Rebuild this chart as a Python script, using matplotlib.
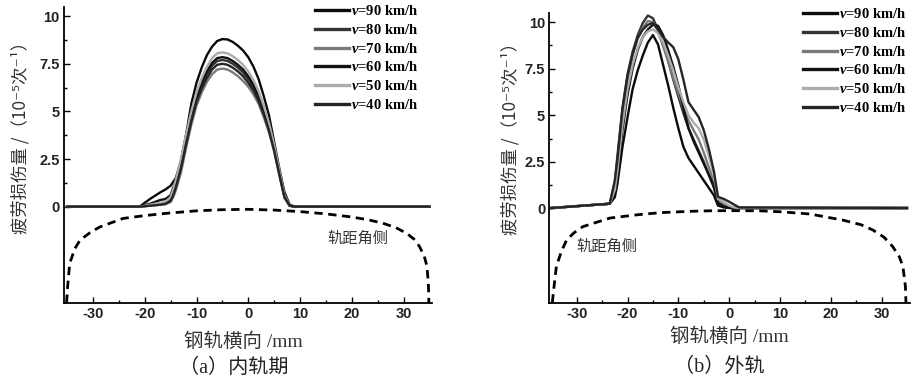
import matplotlib
matplotlib.use("Agg")
import matplotlib.pyplot as plt
from matplotlib.ticker import FixedLocator

plt.rcParams['font.family'] = ['Liberation Sans', 'Noto Sans CJK SC', 'DejaVu Sans']
plt.rcParams['mathtext.fontset'] = 'custom'
plt.rcParams['mathtext.it'] = 'Liberation Serif:italic:bold'
plt.rcParams['mathtext.rm'] = 'Liberation Serif:bold'
plt.rcParams['axes.unicode_minus'] = False

# ---------------- data ----------------
speeds = ["90", "80", "70", "60", "50", "40"]
labels = [r"$\mathit{v}$=" + s + " km/h" for s in speeds]
colors = ["#0a0a0a", "#333333", "#7a7a7a", "#111111", "#acacac", "#252525"]

# (a) inner rail
xa = [-35, -21, -19, -17, -16, -15, -14.5, -14, -13, -12, -11, -10, -9, -8, -7, -6,
      -5, -4, -3, -2, -1, 0, 1, 2, 3, 4, 5, 6, 7, 8, 9, 35]
ya_90 = [0, 0, 0.4, 0.75, 0.9, 1.1, 1.3, 1.5, 2.4, 3.8, 5.4, 6.5, 7.3, 7.95, 8.4, 8.7,
         8.8, 8.78, 8.65, 8.45, 8.2, 7.85, 7.35, 6.7, 5.8, 4.8, 3.4, 2.0, 0.75, 0.1, 0, 0]
ya_80 = [0, 0, 0.05, 0.15, 0.2, 0.4, 0.8, 1.2, 2.2, 3.5, 4.7, 5.7, 6.4, 6.95, 7.4, 7.65,
         7.7, 7.65, 7.5, 7.3, 7.05, 6.7, 6.25, 5.7, 4.95, 4.1, 3.05, 1.75, 0.5, 0.05, 0, 0]
ya_70 = [0, 0, 0.05, 0.1, 0.12, 0.25, 0.5, 0.85, 1.8, 3.1, 4.3, 5.3, 6.0, 6.55, 6.95, 7.2,
         7.25, 7.2, 7.05, 6.85, 6.6, 6.3, 5.9, 5.4, 4.7, 3.9, 2.9, 1.65, 0.45, 0.05, 0, 0]
ya_60 = [0, 0, 0.15, 0.35, 0.4, 0.6, 1.0, 1.3, 2.3, 3.6, 4.8, 5.8, 6.5, 7.1, 7.55, 7.8,
         7.85, 7.8, 7.65, 7.45, 7.2, 6.85, 6.4, 5.85, 5.1, 4.2, 3.15, 1.8, 0.55, 0.05, 0, 0]
ya_50 = [0, 0, 0.1, 0.2, 0.25, 0.5, 0.9, 1.4, 2.5, 3.8, 5.0, 6.0, 6.75, 7.35, 7.8, 8.05,
         8.1, 8.05, 7.9, 7.7, 7.45, 7.1, 6.65, 6.05, 5.3, 4.4, 3.25, 1.9, 0.6, 0.05, 0, 0]
ya_40 = [0, 0, 0.05, 0.1, 0.15, 0.3, 0.6, 1.0, 2.0, 3.3, 4.5, 5.5, 6.2, 6.75, 7.2, 7.45,
         7.5, 7.45, 7.3, 7.1, 6.85, 6.5, 6.1, 5.55, 4.85, 4.0, 2.95, 1.7, 0.5, 0.05, 0, 0]
ya_all = [ya_90, ya_80, ya_70, ya_60, ya_50, ya_40]

# (b) outer rail
xb = [-35, -23.5, -22.5, -22, -21, -20, -19, -18, -17, -16, -15, -14, -13, -12, -11,
      -10, -9, -8, -7, -6, -5, -4, -3, -2.2, -1, 0, 1, 2, 35]
yb_90 = [0.02, 0.25, 0.6, 1.3, 3.3, 4.9, 6.4, 7.4, 8.2, 8.9, 9.3, 8.8, 7.7, 6.6, 5.4,
         4.3, 3.3, 2.7, 2.3, 1.9, 1.5, 1.1, 0.7, 0.15, 0.05, 0.02, 0.02, 0.02, 0.02]
yb_80 = [0.02, 0.25, 1.4, 2.8, 5.4, 7.2, 8.4, 9.3, 9.95, 10.35, 10.2, 9.6, 8.8, 7.9, 6.9,
         6.0, 5.1, 4.3, 3.7, 3.1, 2.5, 1.8, 1.1, 0.3, 0.15, 0.05, 0.02, 0.02, 0.02]
yb_70 = [0.02, 0.25, 1.2, 2.4, 5.0, 6.9, 8.2, 9.1, 9.7, 10.05, 10.0, 9.5, 8.7, 7.9, 7.0,
         6.2, 5.4, 4.7, 4.2, 3.7, 3.0, 2.2, 1.4, 0.4, 0.2, 0.05, 0.02, 0.02, 0.02]
yb_60 = [0.02, 0.25, 0.9, 1.8, 4.2, 6.1, 7.5, 8.5, 9.2, 9.6, 9.85, 9.8, 9.3, 8.5, 7.6,
         6.6, 5.4, 4.3, 3.6, 3.0, 2.4, 1.8, 1.2, 0.3, 0.1, 0.03, 0.02, 0.02, 0.02]
yb_50 = [0.02, 0.25, 1.0, 2.0, 4.5, 6.4, 7.7, 8.6, 9.2, 9.5, 9.6, 9.4, 8.9, 8.2, 7.4,
         6.5, 5.7, 5.0, 4.6, 4.3, 3.7, 2.8, 1.8, 0.5, 0.35, 0.15, 0.05, 0.02, 0.02]
yb_40 = [0.02, 0.25, 1.5, 2.6, 5.3, 7.1, 8.3, 9.15, 9.6, 9.85, 9.95, 9.6, 9.2, 8.9, 8.65,
         8.0, 6.9, 5.7, 5.3, 4.9, 4.2, 3.2, 2.0, 0.62, 0.5, 0.36, 0.2, 0.05, 0.02]
yb_all = [yb_90, yb_80, yb_70, yb_60, yb_50, yb_40]

# rail profiles (dashed)
pa_x = [-35.1, -34.9, -34.5, -33.5, -32.5, -30.5, -28.7, -24.2, -20, -15.8, -10, -5, 0,
        5, 10, 15, 19.6, 23, 26, 28.5, 30.6, 32, 33.1, 34, 34.5, 34.8, 34.9]
pa_y = [-5.05, -4.2, -2.98, -2.2, -1.76, -1.35, -1.07, -0.62, -0.47, -0.35, -0.22, -0.16,
        -0.14, -0.18, -0.26, -0.38, -0.53, -0.68, -0.87, -1.1, -1.4, -1.7, -2.1, -2.6,
        -3.1, -4.0, -5.05]
pb_x = [-34.8, -34.6, -34.0, -33.0, -32.0, -30.5, -28.8, -23.5, -18, -13.6, -8, -3.8, 0,
        6, 10, 15.9, 22.4, 26, 28.3, 30.5, 32.2, 33.5, 34.2, 34.7, 34.8]
pb_y = [-5.05, -4.5, -3.1, -2.3, -1.7, -1.3, -0.98, -0.52, -0.34, -0.23, -0.16, -0.13,
        -0.12, -0.13, -0.18, -0.3, -0.63, -0.88, -1.16, -1.55, -2.05, -2.6, -3.1, -4.2,
        -5.05]

yticks = [0, 2.5, 5, 7.5, 10]
ytick_labels = ["0", "2.5", "5", "7.5", "10"]
yminor = [1.25, 3.75, 6.25, 8.75]
xticks = [-30, -20, -10, 0, 10, 20, 30]
xminor = [-25, -15, -5, 5, 15, 25]

ylabel = "疲劳损伤量 /（10⁻⁵次⁻¹）"
xlabel = "钢轨横向 /mm"
captions = ["（a）内轨期", "（b）外轨"]
side_text = "轨距角侧"

# ---------------- figure ----------------
fig = plt.figure(figsize=(9.11, 3.82), dpi=100)
axa = fig.add_axes([64 / 911, 1 - 303 / 382, 368 / 911, (303 - 6.7) / 382])
axb = fig.add_axes([549.3 / 911, 1 - 302.7 / 382, (910 - 549.3) / 911, (302.7 - 12.7) / 382])

serif_cjk = ['Liberation Serif', 'Noto Sans CJK SC', 'DejaVu Sans']
cjk = ['Noto Sans CJK SC', 'DejaVu Sans']

panels = [
    (axa, xa, ya_all, pa_x, pa_y, (-35.6, 35.5)),
    (axb, xb, yb_all, pb_x, pb_y, (-35.4, 35.6)),
]
for ax, xs, ys_all, px, py, xl in panels:
    for ys, c, lab in zip(ys_all, colors, labels):
        ax.plot(xs, ys, color=c, lw=1.7, label=lab, solid_joinstyle='round')
    ax.plot(px, py, color='black', lw=2.0, linestyle=(0, (3, 2)))
    ax.set_xlim(*xl)
    ax.set_ylim(-5.06, 10.5)
    for s in ['top', 'right']:
        ax.spines[s].set_visible(False)
    for s in ['left', 'bottom']:
        ax.spines[s].set_linewidth(1.3)
    ax.set_yticks(yticks)
    ax.set_yticklabels(ytick_labels)
    ax.yaxis.set_minor_locator(FixedLocator(yminor))
    ax.set_xticks(xticks)
    ax.xaxis.set_minor_locator(FixedLocator(xminor))
    ax.tick_params(which='both', direction='in', width=1.0, labelsize=10.5, pad=3)
    ax.tick_params(which='major', length=4)
    ax.tick_params(which='minor', length=2.5)
    for t in ax.get_xticklabels() + ax.get_yticklabels():
        t.set_fontweight('bold')
        t.set_color('#222222')

leg_pos = [(315 / 911, 1 - 4 / 382), (803 / 911, 1 - 7 / 382)]
for ax, pos in zip([axa, axb], leg_pos):
    leg = ax.legend(loc='upper left', bbox_to_anchor=pos, bbox_transform=fig.transFigure,
                    frameon=False, borderpad=0, borderaxespad=0, handlelength=2.3,
                    handletextpad=0.15, labelspacing=0.33,
                    prop={'family': 'Liberation Serif', 'weight': 'bold', 'size': 10.5})
    for ln in leg.get_lines():
        ln.set_linewidth(2.4)

axa.text(21.1, -1.65, side_text, ha='center', va='center', fontsize=11,
         family=cjk, color='#333333')
axb.text(-24.1, -2.06, side_text, ha='center', va='center', fontsize=11,
         family=cjk, color='#333333')

fig.text(20 / 911, 1 - 133 / 382, ylabel, rotation=90, ha='center', va='center',
         fontsize=12.5, family=cjk, color='#333333')
fig.text(510 / 911, 1 - 134 / 382, ylabel, rotation=90, ha='center', va='center',
         fontsize=12.5, family=cjk, color='#333333')

fig.text(243 / 911, 1 - 342 / 382, xlabel, ha='center', va='center', fontsize=14,
         family=serif_cjk, color='#333333')
fig.text(729 / 911, 1 - 337 / 382, xlabel, ha='center', va='center', fontsize=14,
         family=serif_cjk, color='#333333')

fig.text(234 / 911, 1 - 368 / 382, captions[0], ha='center', va='center', fontsize=14.5,
         family=serif_cjk, color='#222222')
fig.text(719 / 911, 1 - 367 / 382, captions[1], ha='center', va='center', fontsize=14.5,
         family=serif_cjk, color='#222222')

fig.savefig("out.png", dpi=100)
